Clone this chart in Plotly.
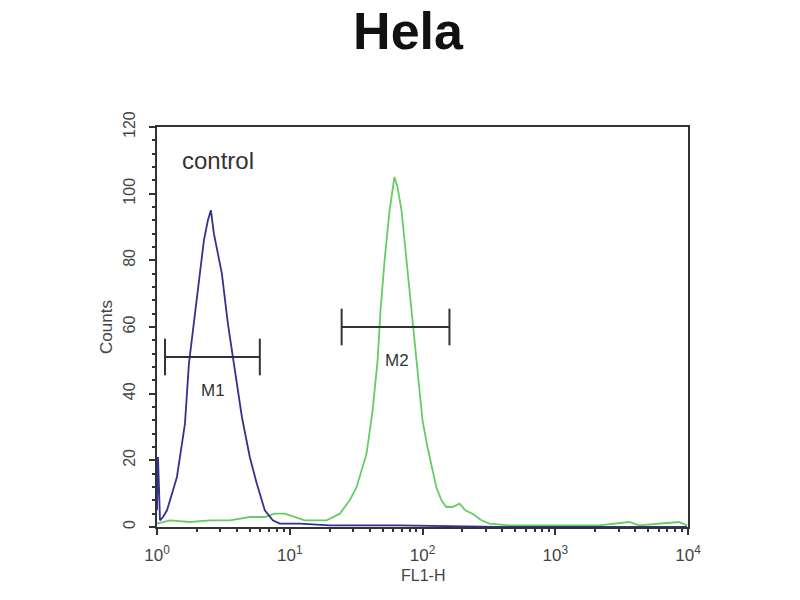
import plotly.graph_objects as go

# control histogram (blue), FL1-H channel value vs counts
blue_x = [1.0, 1.0175, 1.035, 1.053, 1.11, 1.189, 1.297, 1.413, 1.515, 1.624, 1.74, 1.865,
          1.999, 2.105, 2.256, 2.418, 2.547, 2.683, 2.875, 3.081, 3.42, 3.86, 4.36, 5.0,
          5.65, 6.49, 7.45, 8.41, 11.9, 20.0, 67.1, 379, 9820]
blue_y = [5, 21, 12, 2, 3, 5, 10, 15, 23, 31, 49, 59,
          68, 77, 86, 92, 95, 88, 82, 76, 61, 47, 33, 21,
          13, 5, 2, 1, 1, 0.5, 0.5, 0, 0]

# Hela sample histogram (green)
green_x = [1.0, 1.252, 1.77, 2.503, 3.539, 5.0, 6.49, 7.71, 9.17, 10.9, 12.97, 15.42,
           18.97, 23.8, 28.3, 31.9, 34.8, 37.9, 42.1, 45.9, 48.3, 51.8, 56.5, 61.5,
           64.8, 69.5, 75.8, 82.6, 90.2, 100, 109, 117, 127, 139, 151, 168,
           190, 210, 238, 278, 319, 451, 901, 2140, 3600, 4280, 8550, 9820]
green_y = [1, 2, 1.5, 2, 2, 3, 3, 4, 4, 3, 2, 2,
           2, 4, 8, 12, 17, 22, 35, 50, 65, 80, 95, 105,
           102, 95, 80, 65, 50, 32, 24, 18, 12, 8, 6, 6,
           7, 5, 4, 2, 1, 0.5, 0.5, 0.5, 1.5, 0.5, 1.5, 0.5]

# gate markers
m1_range = [1.149, 5.95]
m1_level = 51
m2_range = [24.6, 159.6]
m2_level = 60
cap = 5.5

x_tickvals = [1, 10, 100, 1000, 10000]
x_ticktext = ["10<sup>0</sup>", "10<sup>1</sup>", "10<sup>2</sup>", "10<sup>3</sup>", "10<sup>4</sup>"]
x_minor = [m * 10 ** e for e in range(4) for m in range(2, 10)]

fig = go.Figure()

fig.add_trace(go.Scatter(x=green_x, y=green_y, mode="lines",
                         line=dict(color="#66cc66", width=1.8), showlegend=False))
fig.add_trace(go.Scatter(x=blue_x, y=blue_y, mode="lines",
                         line=dict(color="#34318f", width=1.8), showlegend=False))

for rng, lvl in [(m1_range, m1_level), (m2_range, m2_level)]:
    a, b = rng
    fig.add_trace(go.Scatter(
        x=[a, a, None, a, b, None, b, b],
        y=[lvl - cap, lvl + cap, None, lvl, lvl, None, lvl - cap, lvl + cap],
        mode="lines", line=dict(color="#333333", width=2), showlegend=False))

fig.add_annotation(x=0.42, y=41, xref="x", yref="y", text="M1", showarrow=False,
                   font=dict(size=17, color="#333333", family="Liberation Sans"))
fig.add_annotation(x=1.81, y=50, xref="x", yref="y", text="M2", showarrow=False,
                   font=dict(size=17, color="#333333", family="Liberation Sans"))
fig.add_annotation(x=0.46, y=110, xref="x", yref="y", text="control", showarrow=False,
                   font=dict(size=24, color="#333333", family="Liberation Sans"))
fig.add_annotation(x=0.5, y=-0.122, xref="paper", yref="paper", text="FL1-H",
                   showarrow=False, yanchor="middle",
                   font=dict(size=16, color="#444444", family="Liberation Sans"))

fig.update_layout(
    width=800, height=600,
    paper_bgcolor="white", plot_bgcolor="white",
    margin=dict(l=149, r=120, t=119, b=81),
    title=dict(text="<b>Hela</b>", x=0.5, xanchor="center", y=0.962, yanchor="middle",
               font=dict(size=52, color="#111111", family="Liberation Sans")),
    font=dict(family="Liberation Sans", color="#444444"),
)

fig.update_xaxes(type="log", range=[0, 4], tickvals=x_tickvals, ticktext=x_ticktext,
                 ticks="outside", ticklen=6, tickwidth=1.5, tickcolor="#333333",
                 tickfont=dict(size=17), showgrid=False, zeroline=False,
                 ticklabelstandoff=6,
                 showline=True, linecolor="#333333", linewidth=2, mirror=True,
                 minor=dict(tickvals=x_minor, ticks="outside", ticklen=3,
                            tickcolor="#333333", showgrid=False))
fig.update_yaxes(range=[0, 120], dtick=20, tickangle=-90,
                 ticks="outside", ticklen=6, tickwidth=1.5, tickcolor="#333333",
                 tickfont=dict(size=16), showgrid=False, zeroline=False,
                 ticklabelstandoff=8,
                 showline=True, linecolor="#333333", linewidth=2, mirror=True,
                 minor=dict(dtick=4, ticks="outside", ticklen=3,
                            tickcolor="#333333", showgrid=False),
                 title=dict(text="Counts", font=dict(size=17), standoff=4))

fig.write_html("out.html")
